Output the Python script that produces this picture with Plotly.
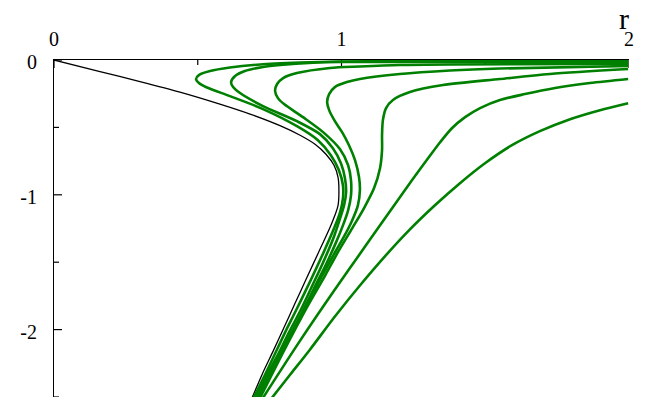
import plotly.graph_objects as go

# ---------------- data ----------------
black_x = [0, 0.16, 0.299, 0.438, 0.577, 0.682, 0.786, 0.856, 0.908, 0.946, 0.974, 0.988,
           0.991, 0.988, 0.977, 0.963, 0.920, 0.878, 0.838, 0.800, 0.763, 0.725, 0.689]
black_y = [0, -0.086, -0.160, -0.238, -0.327, -0.401, -0.487, -0.558, -0.625, -0.699, -0.781,
           -0.870, -0.967, -1.078, -1.152, -1.227, -1.428, -1.621, -1.807, -1.985, -2.156,
           -2.327, -2.506]

g1_x = [1.997, 1.377, 0.995, 0.856, 0.717, 0.612, 0.543, 0.504, 0.494, 0.504, 0.532, 0.612,
        0.727, 0.845, 0.918, 0.963, 0.991, 1.005, 1.005, 0.995, 0.977, 0.936, 0.894, 0.852,
        0.810, 0.772, 0.734, 0.694]
g1_y = [-0.007, -0.007, -0.011, -0.019, -0.033, -0.056, -0.082, -0.112, -0.141, -0.171, -0.204,
        -0.268, -0.364, -0.491, -0.595, -0.706, -0.818, -0.929, -1.026, -1.130, -1.234, -1.435,
        -1.628, -1.814, -1.993, -2.164, -2.335, -2.506]

g2_x = [1.997, 1.377, 0.995, 0.901, 0.786, 0.727, 0.664, 0.630, 0.616, 0.623, 0.647, 0.727,
        0.845, 0.925, 0.970, 0.998, 1.012, 1.016, 1.009, 0.995, 0.974, 0.936, 0.897, 0.859,
        0.817, 0.779, 0.737, 0.699]
g2_y = [-0.015, -0.015, -0.015, -0.020, -0.037, -0.052, -0.082, -0.119, -0.164, -0.201, -0.245,
        -0.342, -0.454, -0.550, -0.654, -0.766, -0.877, -0.981, -1.078, -1.175, -1.309, -1.502,
        -1.680, -1.851, -2.022, -2.186, -2.349, -2.506]

g3_x = [1.997, 1.377, 1.203, 1.064, 0.960, 0.845, 0.797, 0.776, 0.769, 0.779, 0.800, 0.866,
        0.936, 0.995, 1.023, 1.033, 1.033, 1.023, 1.005, 0.981, 0.946, 0.904, 0.863, 0.821,
        0.783, 0.741, 0.704]
g3_y = [-0.030, -0.033, -0.037, -0.048, -0.059, -0.097, -0.134, -0.178, -0.230, -0.283, -0.327,
        -0.424, -0.535, -0.662, -0.781, -0.892, -1.004, -1.115, -1.227, -1.353, -1.517, -1.695,
        -1.874, -2.045, -2.201, -2.357, -2.506]

g4_x = [1.997, 1.551, 1.377, 1.203, 1.064, 1.019, 0.977, 0.957, 0.950, 0.957, 0.977, 1.002,
        1.026, 1.047, 1.061, 1.064, 1.057, 1.037, 1.009, 0.977, 0.939, 0.873, 0.793, 0.710]
g4_y = [-0.045, -0.063, -0.078, -0.104, -0.141, -0.164, -0.201, -0.253, -0.312, -0.372, -0.454,
        -0.535, -0.632, -0.743, -0.870, -0.967, -1.078, -1.190, -1.309, -1.428, -1.576, -1.836,
        -2.156, -2.506]

g5_x = [1.997, 1.725, 1.551, 1.353, 1.238, 1.179, 1.155, 1.144, 1.141, 1.141, 1.134, 1.113,
        1.078, 1.037, 0.991, 0.943, 0.883, 0.800, 0.717]
g5_y = [-0.067, -0.104, -0.141, -0.186, -0.238, -0.297, -0.357, -0.446, -0.558, -0.669, -0.803,
        -0.952, -1.100, -1.249, -1.413, -1.599, -1.822, -2.156, -2.506]

g6_x = [1.997, 1.864, 1.743, 1.638, 1.551, 1.482, 1.430, 1.384, 1.343, 1.301, 1.245, 1.176,
        1.085, 0.977, 0.856, 0.727]
g6_y = [-0.141, -0.171, -0.208, -0.253, -0.297, -0.357, -0.424, -0.506, -0.610, -0.729, -0.892,
        -1.100, -1.375, -1.703, -2.082, -2.506]

g7_x = [1.997, 1.899, 1.795, 1.690, 1.593, 1.499, 1.412, 1.325, 1.238, 1.151, 1.064, 0.977,
        0.890, 0.821, 0.758]
g7_y = [-0.320, -0.372, -0.439, -0.528, -0.632, -0.766, -0.914, -1.078, -1.257, -1.457, -1.673,
        -1.903, -2.149, -2.335, -2.506]

green_curves = [(g1_x, g1_y), (g2_x, g2_y), (g3_x, g3_y), (g4_x, g4_y),
                (g5_x, g5_y), (g6_x, g6_y), (g7_x, g7_y)]

x_major = [0, 1, 2]
x_major_labels = ["0", "1", "2"]
x_minor = [0.5, 1.5]
y_major = [0, -1, -2]
y_major_labels = ["0", "-1", "-2"]
y_minor = [-0.5, -1.5, -2.5]
x_title = "r"

# ---------------- figure ----------------
SERIF = "Liberation Serif, Times New Roman, serif"
GREEN = "#008000"

fig = go.Figure()
fig.add_trace(go.Scatter(x=black_x, y=black_y, mode="lines",
                         line=dict(color="black", width=1.3, shape="spline", smoothing=0.8),
                         hoverinfo="skip", showlegend=False))
for gx, gy in green_curves:
    fig.add_trace(go.Scatter(x=gx, y=gy, mode="lines",
                             line=dict(color=GREEN, width=2.6, shape="spline", smoothing=0.8),
                             hoverinfo="skip", showlegend=False))

shapes = []
for t in x_major:
    shapes.append(dict(type="line", xref="x", yref="y", x0=t, x1=t, ysizemode="pixel",
                       yanchor=0, y0=-8, y1=8, line=dict(color="black", width=1.2), layer="below"))
for t in x_minor:
    shapes.append(dict(type="line", xref="x", yref="y", x0=t, x1=t, ysizemode="pixel",
                       yanchor=0, y0=-5, y1=5, line=dict(color="black", width=1.2), layer="below"))
for t in y_major:
    shapes.append(dict(type="line", xref="x", yref="y", y0=t, y1=t, xsizemode="pixel",
                       xanchor=0, x0=-8, x1=8, line=dict(color="black", width=1.2), layer="below"))
for t in y_minor:
    shapes.append(dict(type="line", xref="x", yref="y", y0=t, y1=t, xsizemode="pixel",
                       xanchor=0, x0=-5, x1=5, line=dict(color="black", width=1.2), layer="below"))

# the page body has an 8px default margin, so the figure is sized to fit inside the window
fig.update_layout(
    width=651, height=399, autosize=False,
    margin=dict(l=46, r=30, t=52, b=10),
    paper_bgcolor="white", plot_bgcolor="white",
    showlegend=False,
    shapes=shapes,
    xaxis=dict(range=[0, 2], side="top", showline=True, linecolor="black", linewidth=1.2,
               ticks="", tickvals=x_major, ticktext=x_major_labels,
               tickfont=dict(family=SERIF, size=20, color="black"),
               showgrid=False, zeroline=False, layer="below traces", automargin=False,
               ticklabelstandoff=5, fixedrange=True),
    yaxis=dict(range=[-2.5, 0], showline=True, linecolor="black", linewidth=1.2,
               ticks="", tickvals=y_major, ticktext=y_major_labels,
               tickfont=dict(family=SERIF, size=20, color="black"),
               showgrid=False, zeroline=False, layer="below traces", automargin=False,
               ticklabelstandoff=12, ticklabelshift=2, fixedrange=True),
    annotations=[dict(x=2, y=0, xref="x", yref="y", text=x_title, showarrow=False,
                      font=dict(family=SERIF, size=30, color="black"), borderpad=0,
                      xanchor="center", yanchor="bottom", xshift=-5, yshift=24)],
)

fig.write_html("out.html")
